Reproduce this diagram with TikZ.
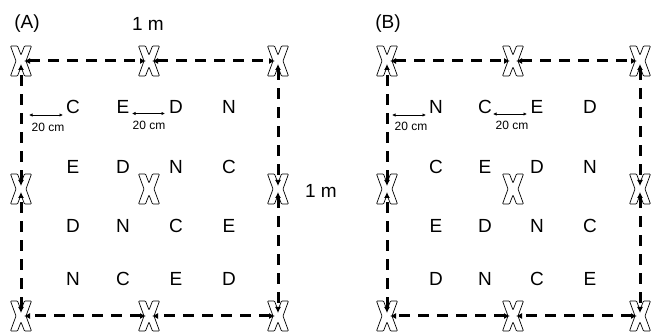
\documentclass[tikz,border=0pt]{standalone}
\usepackage{fontspec}
\setmainfont{Liberation Sans}
\usetikzlibrary{arrows.meta}
\tikzset{
  xmark/.pic={\draw[line width=0.7pt,fill=white,rounded corners=0.8pt]
     (-10.5,-15) -- (-3.5,-15) -- (0,-6) -- (3.5,-15) -- (10.5,-15) -- (5,0) -- (10.5,15) -- (3.5,15)
     -- (0,6) -- (-3.5,15) -- (-10.5,15) -- (-5,0) -- cycle;},
  bord/.style={line width=3pt, dash pattern=on 11pt off 8pt, <->, >={Latex[length=6pt,width=6pt]},
     shorten >=3pt, shorten <=3pt},
  dim/.style={line width=0.8pt, <->, >={Latex[length=3.5pt,width=3.5pt]}},
  lett/.style={font=\fontsize{19}{21}\selectfont, inner sep=0pt},
  small/.style={font=\fontsize{12}{14}\selectfont, inner sep=0pt},
}
\begin{document}
\begin{tikzpicture}[x=1pt,y=-1pt]
\useasboundingbox (0,0) rectangle (653,336);
% ---------- panel A ----------
\foreach \r/\y in {1/61,2/189,3/316}{
  \foreach \c/\x in {1/21,2/149,3/278}{
    \coordinate (a\r\c) at (\x,\y);
    \pic at (a\r\c) {xmark};
  }}
\draw[bord] (a11) -- (a12);
\draw[bord] (a12) -- (a13);
\draw[bord] (a13) -- (a23);
\draw[bord] (a23) -- (a33);
\draw[bord] (a33) -- (a32);
\draw[bord] (a32) -- (a31);
\draw[bord] (a31) -- (a21);
\draw[bord] (a21) -- (a11);
\node[lett] (labA) at (27,24) {(A)};
\node[lett] (mA1) at (148,24) {1 m};
\node[lett] (mA2) at (321,191) {1 m};
% letters A
\node[lett] (A11) at (73,107) {C};
\node[lett] (A12) at (123,107) {E};
\node[lett] (A13) at (176,107) {D};
\node[lett] (A14) at (229,107) {N};
\node[lett] (A21) at (73,167) {E};
\node[lett] (A22) at (123,167) {D};
\node[lett] (A23) at (176,167) {N};
\node[lett] (A24) at (229,167) {C};
\node[lett] (A31) at (73,226) {D};
\node[lett] (A32) at (123,226) {N};
\node[lett] (A33) at (176,226) {C};
\node[lett] (A34) at (229,226) {E};
\node[lett] (A41) at (73,279) {N};
\node[lett] (A42) at (123,279) {C};
\node[lett] (A43) at (176,279) {E};
\node[lett] (A44) at (229,279) {D};
\coordinate (dA1s) at (29,115); \coordinate (dA1e) at (63,115);
\coordinate (dA2s) at (132,113.5); \coordinate (dA2e) at (165,113.5);
\draw[dim] (dA1s) -- (dA1e);
\draw[dim] (dA2s) -- (dA2e);
\node[small] (cA1) at (48,127) {20 cm};
\node[small] (cA2) at (149,125) {20 cm};
% ---------- panel B ----------
\foreach \r/\y in {1/61,2/189,3/316}{
  \foreach \c/\x in {1/387,2/513,3/640}{
    \coordinate (b\r\c) at (\x,\y);
    \pic at (b\r\c) {xmark};
  }}
\draw[bord] (b11) -- (b12);
\draw[bord] (b12) -- (b13);
\draw[bord] (b13) -- (b23);
\draw[bord] (b23) -- (b33);
\draw[bord] (b33) -- (b32);
\draw[bord] (b32) -- (b31);
\draw[bord] (b31) -- (b21);
\draw[bord] (b21) -- (b11);
\node[lett] (labB) at (388,24) {(B)};
\node[lett] (B11) at (436,107) {N};
\node[lett] (B12) at (485,107) {C};
\node[lett] (B13) at (537,107) {E};
\node[lett] (B14) at (590,107) {D};
\node[lett] (B21) at (436,167) {C};
\node[lett] (B22) at (485,167) {E};
\node[lett] (B23) at (537,167) {D};
\node[lett] (B24) at (590,167) {N};
\node[lett] (B31) at (436,226) {E};
\node[lett] (B32) at (485,226) {D};
\node[lett] (B33) at (537,226) {N};
\node[lett] (B34) at (590,226) {C};
\node[lett] (B41) at (436,279) {D};
\node[lett] (B42) at (485,279) {N};
\node[lett] (B43) at (537,279) {C};
\node[lett] (B44) at (590,279) {E};
\coordinate (dB1s) at (392,115); \coordinate (dB1e) at (426,115);
\coordinate (dB2s) at (493,114); \coordinate (dB2e) at (527,114);
\draw[dim] (dB1s) -- (dB1e);
\draw[dim] (dB2s) -- (dB2e);
\node[small] (cB1) at (411,126) {20 cm};
\node[small] (cB2) at (512,125) {20 cm};
\end{tikzpicture}
\end{document}
